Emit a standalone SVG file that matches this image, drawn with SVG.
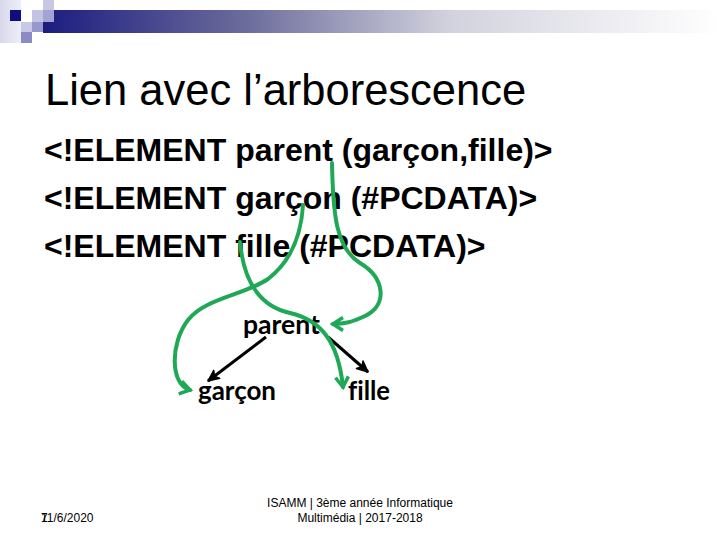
<svg xmlns="http://www.w3.org/2000/svg" width="720" height="540" viewBox="0 0 720 540">
  <style>
    .title { font-family: "Liberation Sans", Arial, sans-serif; font-size: 43.5px; fill: #000; }
    .body { font-family: "Liberation Sans", Arial, sans-serif; font-size: 32px; font-weight: bold; fill: #000; }
    .node { font-family: Lato, "Open Sans", sans-serif; font-size: 27px; font-weight: bold; fill: #000; font-variant-ligatures: none; font-feature-settings: "liga" 0, "clig" 0; }
    .foot { font-family: "Liberation Sans", Arial, sans-serif; font-size: 12px; fill: #000; }
    .green { fill: none; stroke: #1fa855; stroke-width: 4; stroke-linecap: round; }
    .black { fill: none; stroke: #000; stroke-width: 3; }
  </style>
  <defs>
    <linearGradient id="bar" x1="0" y1="0" x2="1" y2="0">
      <stop offset="0" stop-color="#1c1c80"/>
      <stop offset="0.3" stop-color="#6c6c9c"/>
      <stop offset="0.6" stop-color="#d2d2de"/>
      <stop offset="1" stop-color="#ffffff"/>
    </linearGradient>
    <linearGradient id="strip" x1="0" y1="0" x2="1" y2="0">
      <stop offset="0" stop-color="#d8d8ec"/>
      <stop offset="1" stop-color="#eeeef8"/>
    </linearGradient>
    <marker id="gArrow" viewBox="0 0 16 16" refX="13" refY="8" markerWidth="16" markerHeight="16" orient="auto" markerUnits="userSpaceOnUse">
      <path d="M3,1.5 L13,8 L3,14.5" fill="none" stroke="#1fa855" stroke-width="3.5"/>
    </marker>
    <marker id="bArrow" viewBox="0 0 14 12" refX="12" refY="6" markerWidth="14" markerHeight="12" orient="auto" markerUnits="userSpaceOnUse">
      <path d="M1,1 L12,6 L1,11 L4,6 Z" fill="#000" stroke="#000" stroke-width="1.5" stroke-linejoin="round"/>
    </marker>
  </defs>

  <rect width="720" height="540" fill="#fff"/>

  <g id="header">
    <rect x="0" y="0" width="21" height="43" fill="url(#strip)"/>
    <rect x="43" y="10" width="677" height="23" fill="url(#bar)"/>
    <rect x="10" y="10" width="11" height="11" fill="#0e0e7c"/>
    <rect x="43" y="0" width="11" height="10" fill="#c8c8e4"/>
    <rect x="32" y="10" width="11" height="12" fill="#c4c4e2"/>
    <rect x="43" y="10" width="11" height="12" fill="#a4a4d2"/>
    <rect x="21" y="22" width="11" height="10" fill="#c8c8e8"/>
    <rect x="32" y="22" width="11" height="10" fill="#9898cc"/>
    <rect x="21" y="32" width="11" height="11" fill="#8c8cc4"/>
  </g>

  <g id="title">
    <text class="title" x="45" y="105">Lien avec l’arborescence</text>
  </g>

  <g id="dtd">
    <text class="body" x="44" y="161">&lt;!ELEMENT parent (garçon,fille)&gt;</text>
    <text class="body" x="44" y="209">&lt;!ELEMENT garçon (#PCDATA)&gt;</text>
    <text class="body" x="44" y="257">&lt;!ELEMENT fille (#PCDATA)&gt;</text>
  </g>

  <g id="node-parent">
    <text class="node" x="243" y="334" textLength="77" lengthAdjust="spacingAndGlyphs">parent</text>
  </g>
  <g id="node-garcon">
    <text class="node" x="198" y="400" textLength="78" lengthAdjust="spacingAndGlyphs">garçon</text>
  </g>
  <g id="node-fille">
    <text class="node" x="348" y="400" textLength="42" lengthAdjust="spacingAndGlyphs">fille</text>
  </g>

  <g id="connectors">
    <line class="black" x1="266" y1="337" x2="208" y2="381" marker-end="url(#bArrow)"/>
    <line class="black" x1="328" y1="337" x2="368" y2="372" marker-end="url(#bArrow)"/>
    <path class="green" d="M303,205 C301,238 290,262 268,279 C245,295 205,298 188,320 C170,343 170,385 190,390" marker-end="url(#gArrow)"/>
    <path class="green" d="M240,242 C243,275 255,305 290,313 C320,320 338,340 343,387" marker-end="url(#gArrow)"/>
    <path class="green" d="M332,163 C333,215 336,248 360,263 C385,278 388,305 365,316 C352,322 345,324 333,324" marker-end="url(#gArrow)"/>
  </g>

  <g id="footer">
    <text class="foot" x="41" y="522">11/6/2020</text>
    <text class="foot" x="41" y="522">7</text>
    <text class="foot" x="360" y="507" text-anchor="middle">ISAMM | 3ème année Informatique</text>
    <text class="foot" x="360" y="522" text-anchor="middle">Multimédia | 2017-2018</text>
  </g>
</svg>
